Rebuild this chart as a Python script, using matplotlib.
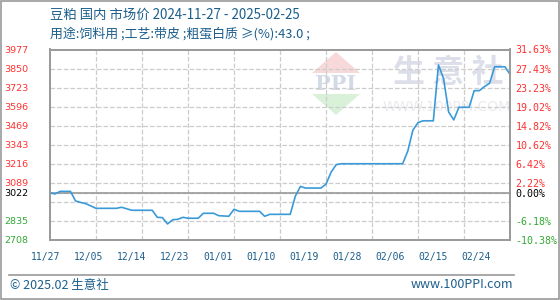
import numpy as np
import matplotlib
matplotlib.use("Agg")
import matplotlib.pyplot as plt
from matplotlib.patches import Polygon, Rectangle
from matplotlib.lines import Line2D
import matplotlib.transforms as mtransforms

plt.rcParams['font.family'] = ['Noto Sans CJK SC', 'DejaVu Sans']

# daily price, 2024-11-27 .. 2025-02-25
prices = [
    3022, 3015, 3032, 3032, 3032, 2968, 2958, 2950, 2935, 2919,
    2919, 2919, 2919, 2919, 2926, 2916, 2906, 2906, 2906, 2906,
    2906, 2859, 2857, 2815, 2843, 2846, 2859, 2853, 2853, 2853,
    2886, 2886, 2886, 2870, 2868, 2866, 2913, 2899, 2899, 2899,
    2899, 2899, 2866, 2879, 2879, 2879, 2879, 2879, 3000, 3065,
    3054, 3054, 3054, 3054, 3080, 3160, 3210, 3216, 3216, 3216,
    3216, 3216, 3216, 3216, 3216, 3216, 3216, 3216, 3216, 3216,
    3300, 3440, 3490, 3502, 3502, 3502, 3874, 3784, 3560, 3508,
    3592, 3592, 3592, 3703, 3703, 3730, 3752, 3862, 3862, 3862,
    3812,
]
base_price = 3022
y_ticks = [2708, 2835, 3022, 3089, 3216, 3343, 3469, 3596, 3723, 3850, 3977]
pct_labels = ["-10.38%", "-6.18%", "0.00%", "2.22%", "6.42%", "10.62%",
              "14.82%", "19.02%", "23.23%", "27.43%", "31.63%"]
x_labels = ["11/27", "12/05", "12/14", "12/23", "01/01", "01/10",
            "01/19", "01/28", "02/06", "02/15", "02/24"]

title1 = "豆粕 国内 市场价 2024-11-27 - 2025-02-25"
title2 = "用途:饲料用 ;工艺:带皮 ;粗蛋白质 ≥(%):43.0 ;"

BLUE = "#1b5e8c"
RED = "#ff3030"
GREEN = "#33a933"
GRAY = "#999999"

W, H = 560, 300
fig = plt.figure(figsize=(5.6, 3.0), dpi=100)


def fx(px):
    return px / W


def fy(py):
    return 1 - py / H


# outer frame
fig.patches.append(Rectangle((0.001, 0.002), 0.997, 0.995, transform=fig.transFigure,
                             fill=False, edgecolor=GRAY, linewidth=1.2, zorder=5))

# watermark
fig.patches.append(Polygon([(fx(312), fy(73)), (fx(336), fy(52)), (fx(360), fy(73))],
                           closed=True, transform=fig.transFigure,
                           facecolor="#f7d9d9", edgecolor="none", zorder=-1))
fig.patches.append(Polygon([(fx(312), fy(94)), (fx(336), fy(115)), (fx(360), fy(94))],
                           closed=True, transform=fig.transFigure,
                           facecolor="#d9f0d9", edgecolor="none", zorder=-1))
fig.text(fx(336), fy(84), "PPI", ha="center", va="center", fontsize=15,
         fontweight="bold", color="#d3d9e6", family="DejaVu Serif", zorder=-1)
fig.text(fx(448), fy(73), "生 意 社", ha="center", va="center", fontsize=23,
         fontweight="bold", color="#dcdfea", zorder=-1)
fig.text(fx(447), fy(107), "WWW.100PPI.COM", ha="center", va="center", fontsize=10,
         color="#eaeaef", family="DejaVu Sans", zorder=-1)

ax = fig.add_axes([fx(50), fy(240), fx(460), (240 - 49.5) / H])
ax.set_facecolor("none")
days = np.arange(len(prices))
ax.plot(days, prices, color="#3a9ad9", linewidth=1.2, zorder=3)
ax.axhline(base_price, color=GRAY, linewidth=1.2, zorder=2)

ax.set_xlim(0, 90)
ax.set_ylim(2708, 3977)
ax.set_xticks(np.arange(9, 90, 9))
ax.set_xticklabels([])
ax.set_yticks(y_ticks)
ax.set_yticks([2962], minor=True)
ax.set_yticklabels([str(v) for v in y_ticks], fontsize=6.8, family="DejaVu Sans")
for lbl, v in zip(ax.get_yticklabels(), y_ticks):
    lbl.set_color(RED if v > base_price else ("black" if v == base_price else GREEN))
ax.tick_params(axis="both", which="both", length=0)
ax.tick_params(axis="y", pad=15.5)
ax.grid(True, which="both", color="#cccccc", linestyle="--", linewidth=0.9)
for s in ax.spines.values():
    s.set_color(GRAY)
    s.set_linewidth(1.2)

# x labels, evenly spaced as in the source chart
trans = mtransforms.blended_transform_factory(ax.transData, ax.transAxes)
for i, lab in enumerate(x_labels):
    ax.text(-0.78 + 8.41 * i, -0.087, lab, transform=trans, ha="center", va="center",
            fontsize=7, family="DejaVu Sans Mono", color=BLUE)

ax2 = ax.twinx()
ax2.set_ylim(ax.get_ylim())
ax2.set_yticks(y_ticks)
ax2.set_yticklabels(pct_labels, fontsize=7.2, family="DejaVu Sans Mono")
for lbl, v in zip(ax2.get_yticklabels(), y_ticks):
    lbl.set_color(RED if v > base_price else ("black" if v == base_price else GREEN))
ax2.tick_params(axis="y", length=0, pad=4)
for s in ax2.spines.values():
    s.set_color(GRAY)
    s.set_linewidth(1.2)

# header
fig.text(fx(50), fy(15), title1, ha="left", va="center", fontsize=9.6, color=BLUE)
fig.text(fx(50), fy(34), title2, ha="left", va="center", fontsize=9.3, color=BLUE)

# footer
fig.add_artist(Line2D([fx(9), fx(514)], [fy(275), fy(275)], transform=fig.transFigure,
                      color=GRAY, linewidth=1.2))
fig.text(fx(10), fy(285), "© 2025.02 生意社", ha="left", va="center", fontsize=9, color=BLUE)
fig.text(fx(513), fy(285), "www.100PPI.com", ha="right", va="center", fontsize=9, color=BLUE)

fig.savefig("out.png", dpi=100)
